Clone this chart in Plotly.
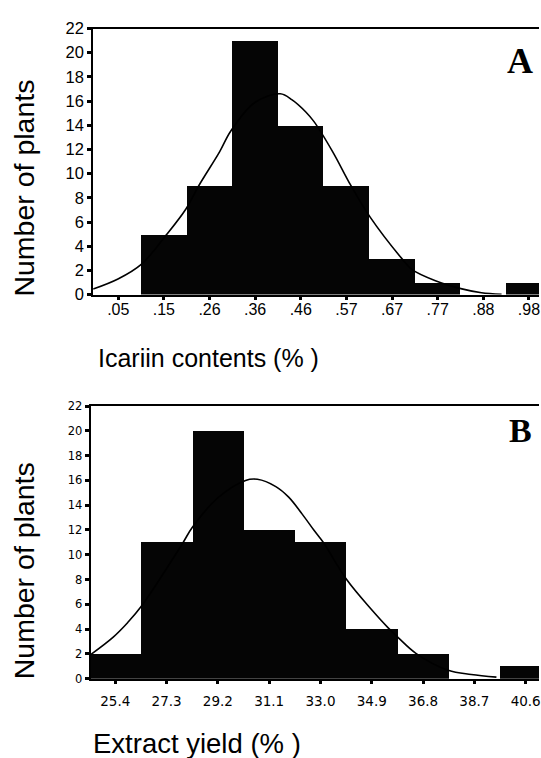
import plotly.graph_objects as go

# ---------------- Panel A: Icariin contents ----------------
a_labels = [".05", ".15", ".26", ".36", ".46", ".57", ".67", ".77", ".88", ".98"]
a_counts = [0, 5, 9, 21, 14, 9, 3, 1, 0, 1]
# fitted normal curve (x in bin-index units)
a_curve_x = [-0.55, -0.006, 0.504, 1.05, 1.487, 1.78, 2.22, 2.47, 3.0, 3.55, 3.81,
             4.11, 4.29, 4.7, 5.10, 5.52, 6.22, 6.43, 6.95, 7.53, 7.96, 8.4]
a_curve_y = [0.45, 1.28, 2.49, 4.92, 7.1, 9.1, 11.8, 13.55, 15.9, 16.6, 16.1,
             15.1, 14.3, 11.8, 9.0, 6.4, 2.95, 2.09, 1.15, 0.47, 0.15, 0.02]

# ---------------- Panel B: Extract yield ----------------
b_labels = ["25.4", "27.3", "29.2", "31.1", "33.0", "34.9", "36.8", "38.7", "40.6"]
b_counts = [2, 11, 20, 12, 11, 4, 2, 0, 1]
b_curve_x = [-0.48, -0.04, 0.244, 0.50, 1.30, 1.50, 2.0, 2.54, 2.77, 3.13, 3.38,
             3.64, 3.87, 4.06, 4.51, 4.99, 5.32, 5.52, 5.86, 6.49, 6.94, 7.43]
b_curve_y = [1.95, 3.36, 4.54, 5.8, 10.84, 12.2, 14.6, 16.0, 16.09, 15.5, 14.65,
             13.3, 12.0, 10.97, 8.0, 5.6, 4.1, 3.3, 2.05, 0.68, 0.34, 0.13]

y_ticks = list(range(0, 23, 2))

W, H = 541, 758
SANS = "Liberation Sans, Arial, sans-serif"
SERIF = "Liberation Serif, Times New Roman, serif"

fig = go.Figure()
fig.add_trace(go.Bar(x=list(range(len(a_counts))), y=a_counts, width=1,
                     marker=dict(color="#050505", line=dict(width=0)),
                     xaxis="x", yaxis="y", showlegend=False))
fig.add_trace(go.Scatter(x=a_curve_x, y=a_curve_y, mode="lines",
                         line=dict(color="black", width=1.6, shape="spline", smoothing=1),
                         xaxis="x", yaxis="y", showlegend=False))
fig.add_trace(go.Bar(x=list(range(len(b_counts))), y=b_counts, width=1,
                     marker=dict(color="#050505", line=dict(width=0)),
                     xaxis="x2", yaxis="y2", showlegend=False))
fig.add_trace(go.Scatter(x=b_curve_x, y=b_curve_y, mode="lines",
                         line=dict(color="black", width=1.6, shape="spline", smoothing=1),
                         xaxis="x2", yaxis="y2", showlegend=False))

common_axis = dict(showline=True, linecolor="black", showgrid=False, zeroline=False,
                   ticks="outside", tickcolor="black")

fig.update_layout(
    width=W, height=H,
    margin=dict(l=0, r=0, t=0, b=0),
    paper_bgcolor="white", plot_bgcolor="white",
    bargap=0,
    xaxis=dict(domain=[93.5 / W, 1], range=[-0.55, 9.22], anchor="y",
               tickmode="array", tickvals=list(range(len(a_labels))), ticktext=a_labels,
               linewidth=2, mirror=True, ticklen=3, tickwidth=3,
               ticklabelstandoff=-4, ticklabeloverflow="allow",
               tickfont=dict(family=SANS, size=16, color="black"), **common_axis),
    yaxis=dict(domain=[1 - 292.5 / H, 1 - 20 / H], range=[0, 22], anchor="x",
               tickmode="array", tickvals=y_ticks,
               linewidth=2, ticklen=4, tickwidth=3, ticklabelstandoff=0,
               tickfont=dict(family=SANS, size=16.5, color="black"), **common_axis),
    xaxis2=dict(domain=[91 / W, 1], range=[-0.48, 8.26], anchor="y2",
                tickmode="array", tickvals=list(range(len(b_labels))), ticktext=b_labels,
                linewidth=2, mirror=True, ticklen=3, tickwidth=3,
                ticklabelstandoff=6, ticklabeloverflow="allow",
                tickfont=dict(family="DejaVu Sans", size=13.5, color="black"), **common_axis),
    yaxis2=dict(domain=[1 - 686 / H, 1 - 406.7 / H], range=[0, 22], anchor="x2",
                tickmode="array", tickvals=y_ticks,
                linewidth=2, ticklen=4, tickwidth=3, ticklabelstandoff=0,
                tickfont=dict(family="DejaVu Sans", size=11.5, color="black"), **common_axis),
    annotations=[
        dict(text="Number of plants", x=24 / W, y=1 - 183 / H, xref="paper", yref="paper",
             textangle=-90, showarrow=False, xanchor="center", yanchor="middle",
             font=dict(family=SANS, size=28.5, color="black")),
        dict(text="Number of plants", x=24 / W, y=1 - 575 / H, xref="paper", yref="paper",
             textangle=-90, showarrow=False, xanchor="center", yanchor="middle",
             font=dict(family=SANS, size=28.5, color="black")),
        dict(text="Icariin contents (% )", x=96.7 / W, y=1 - 358 / H, xref="paper", yref="paper",
             showarrow=False, xanchor="left", yanchor="middle",
             font=dict(family=SANS, size=25, color="black")),
        dict(text="Extract yield (% )", x=91.5 / W, y=1 - 752 / H, xref="paper", yref="paper",
             showarrow=False, xanchor="left", yanchor="middle",
             font=dict(family=SANS, size=27.5, color="black")),
        dict(text="<b>A</b>", x=521.7 / W, y=1 - 53 / H, xref="paper", yref="paper",
             showarrow=False, xanchor="center", yanchor="middle",
             font=dict(family=SERIF, size=36, color="black")),
        dict(text="<b>B</b>", x=522.7 / W, y=1 - 432 / H, xref="paper", yref="paper",
             showarrow=False, xanchor="center", yanchor="middle",
             font=dict(family=SERIF, size=34, color="black")),
    ],
)

fig.write_html("out.html", config={"displayModeBar": False},
               post_script="document.body.style.margin='0';document.body.style.overflow='hidden';")
